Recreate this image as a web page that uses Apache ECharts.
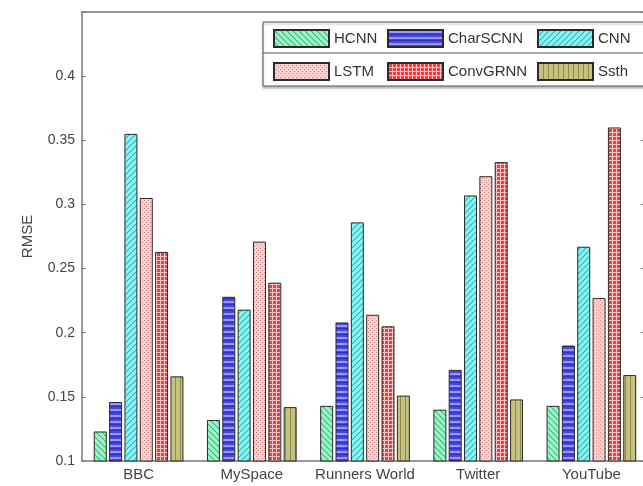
<!DOCTYPE html>
<html>
<head>
<meta charset="utf-8">
<script src="https://cdn.jsdelivr.net/npm/echarts@6/dist/echarts.min.js"></script>
<style>
  html, body { margin: 0; padding: 0; background: #fff; }
  #chart { width: 643px; height: 486px; }
</style>
</head>
<body>
<div id="chart"></div>
<script>
// Datasets on the x axis
const categories = ['BBC', 'MySpace', 'Runners World', 'Twitter', 'YouTube'];

// RMSE of each method per dataset
const hcnn     = [0.123, 0.132, 0.143, 0.140, 0.143];
const charscnn = [0.146, 0.228, 0.208, 0.171, 0.190];
const cnn      = [0.355, 0.218, 0.286, 0.307, 0.267];
const lstm     = [0.305, 0.271, 0.214, 0.322, 0.227];
const convgrnn = [0.263, 0.239, 0.205, 0.333, 0.360];
const ssth     = [0.166, 0.142, 0.151, 0.148, 0.167];

const seriesNames = ['HCNN', 'CharSCNN', 'CNN', 'LSTM', 'ConvGRNN', 'Ssth'];
const seriesValues = [hcnn, charscnn, cnn, lstm, convgrnn, ssth];

// Y axis range and tick labels
const yMin = 0.1, yMax = 0.45, yStep = 0.05;
const yTickLabels = ['0.1', '0.15', '0.2', '0.25', '0.3', '0.35', '0.4'];

// ---- hatch fills drawn on small tiles ----
function tile(size, draw) {
  const c = document.createElement('canvas');
  c.width = size; c.height = size;
  const g = c.getContext('2d');
  draw(g, size);
  return { image: c, repeat: 'repeat' };
}
function diag(base, line, backslash) {
  return tile(6, (g, s) => {
    g.fillStyle = base; g.fillRect(0, 0, s, s);
    g.strokeStyle = line; g.lineWidth = 1.2;
    for (let k = -s; k <= 2 * s; k += s) {
      g.beginPath();
      if (backslash) { g.moveTo(k, 0); g.lineTo(k + s, s); }
      else { g.moveTo(k + s, 0); g.lineTo(k, s); }
      g.stroke();
    }
  });
}
const fills = [
  diag('#a4f0c8', '#38c080', true),                      // HCNN
  tile(6, (g, s) => {                                    // CharSCNN
    g.fillStyle = '#4646ea'; g.fillRect(0, 0, s, s);
    g.fillStyle = '#9898ff'; g.fillRect(0, 1, s, 2);
    g.fillStyle = '#3030c8'; g.fillRect(0, 4, s, 1);
  }),
  diag('#8af2f2', '#26c0c4', false),                     // CNN
  tile(4, (g, s) => {                                    // LSTM
    g.fillStyle = '#f8d0d0'; g.fillRect(0, 0, s, s);
    g.fillStyle = '#d88e8e';
    g.fillRect(0, 0, 1, 1); g.fillRect(2, 2, 1, 1);
  }),
  tile(4, (g, s) => {                                    // ConvGRNN
    g.fillStyle = '#ee4040'; g.fillRect(0, 0, s, s);
    g.fillStyle = '#ffc4c4';
    g.fillRect(0, 0, s, 1); g.fillRect(0, 0, 1, s);
  }),
  tile(5, (g, s) => {                                    // Ssth
    g.fillStyle = '#c4c27c'; g.fillRect(0, 0, s, s);
    g.fillStyle = '#8e8a4c'; g.fillRect(0, 0, 1, s);
  })
];

const series = seriesNames.map((name, i) => ({
  name: name,
  type: 'bar',
  data: seriesValues[i],
  barWidth: 13,
  barGap: '18%',
  itemStyle: { color: fills[i], borderColor: '#2a2a2a', borderWidth: 1 }
}));

const textColor = '#444';
const axisColor = '#777';
const fontFamily = 'Liberation Sans, Arial, sans-serif';

// legend laid out in three columns of two rows
const legendCols = [['HCNN', 'LSTM'], ['CharSCNN', 'ConvGRNN'], ['CNN', 'Ssth']];
const legendLeft = [273, 387, 537];

const chart = echarts.init(document.getElementById('chart'), null, { renderer: 'canvas' });
chart.setOption({
  animation: false,
  backgroundColor: '#fff',
  textStyle: { fontFamily: fontFamily },
  grid: { left: 82, top: 12, width: 566, height: 449, containLabel: false, outerBoundsMode: 'none' },
  legend: legendCols.map((items, k) => ({
    data: items,
    orient: 'vertical',
    left: legendLeft[k],
    top: 29,
    itemWidth: 55,
    itemHeight: 17,
    itemGap: 14,
    padding: 0,
    icon: 'rect',
    selectedMode: false,
    textStyle: { color: '#333', fontSize: 15, fontFamily: fontFamily },
    z: 10
  })),
  graphic: [
    {
      type: 'rect', z: 5,
      shape: { x: 263, y: 22, width: 385, height: 64 },
      style: { fill: '#fff', stroke: '#555', lineWidth: 1,
               shadowColor: 'rgba(0,0,0,0.25)', shadowOffsetY: 2, shadowBlur: 2 }
    },
    {
      type: 'line', z: 6,
      shape: { x1: 263, y1: 53, x2: 648, y2: 53 },
      style: { stroke: '#555', lineWidth: 1 }
    }
  ],
  xAxis: [
    {
      type: 'category',
      data: categories,
      position: 'bottom',
      axisLine: { lineStyle: { color: axisColor, width: 1.5 } },
      axisTick: { inside: true, length: 5, alignWithLabel: true, lineStyle: { color: '#000', width: 1.5 } },
      axisLabel: { color: textColor, fontSize: 15, margin: 6, interval: 0 },
      splitLine: { show: false }
    },
    {
      type: 'category',
      data: categories,
      position: 'top',
      axisLine: { lineStyle: { color: axisColor, width: 1.5 } },
      axisTick: { inside: true, length: 5, alignWithLabel: true, lineStyle: { color: axisColor } },
      axisLabel: { show: false }
    }
  ],
  yAxis: [
    {
      type: 'value',
      min: yMin, max: yMax, interval: yStep,
      position: 'left',
      name: 'RMSE',
      nameLocation: 'middle',
      nameGap: 47,
      nameRotate: 90,
      nameTextStyle: { color: textColor, fontSize: 15 },
      axisLine: { show: true, lineStyle: { color: axisColor, width: 1.5 } },
      axisTick: { show: true, inside: true, length: 4, lineStyle: { color: axisColor } },
      axisLabel: {
        color: textColor, fontSize: 14, margin: 7,
        formatter: (v) => {
          const lbl = yTickLabels.find(t => Math.abs(parseFloat(t) - v) < 1e-9);
          return lbl || '';
        }
      },
      splitLine: { show: false }
    },
    {
      type: 'value',
      min: yMin, max: yMax, interval: yStep,
      position: 'right',
      axisLine: { show: true, lineStyle: { color: axisColor, width: 1.5 } },
      axisTick: { show: true, inside: true, length: 7, lineStyle: { color: axisColor } },
      axisLabel: { show: false },
      splitLine: { show: false }
    }
  ],
  series: series
});
</script>
</body>
</html>
